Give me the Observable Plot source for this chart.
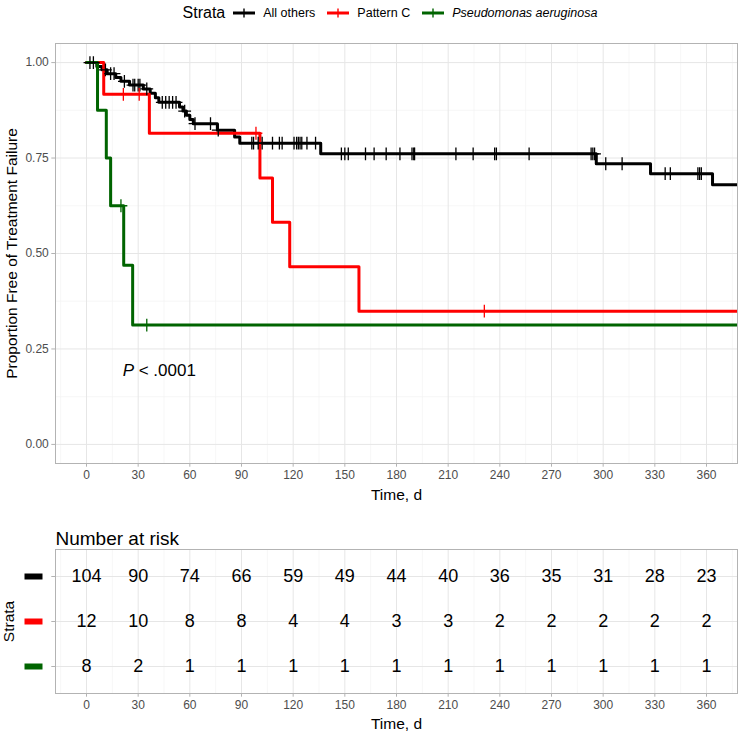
<!DOCTYPE html>
<html><head><meta charset="utf-8">
<script src="https://cdn.jsdelivr.net/npm/d3@7"></script>
<script src="https://cdn.jsdelivr.net/npm/@observablehq/plot@0.6"></script>
<style>
body{margin:0;background:#fff;font-family:"Liberation Sans",Arial,sans-serif;}
#wrap{position:relative;width:750px;height:734px;overflow:hidden;}
#legend{position:absolute;left:55px;top:0;width:682px;height:25px;display:flex;align-items:center;justify-content:center;}
#legend .ttl{font-size:16px;margin-right:8px;color:#000;}
#legend .item{display:flex;align-items:center;margin-right:12px;font-size:12.5px;color:#000;}
#legend svg{margin-right:8px;}
#main{position:absolute;left:0;top:25px;}
#risk{position:absolute;left:0;top:510px;}
</style></head><body>
<div id="wrap"><div id="legend"></div><div id="main"></div><div id="risk"></div></div>
<script>
// ---------- data ----------
const strata = ["All others", "Pattern C", "Pseudomonas aeruginosa"];
const strataColors = ["#000000", "#FF0000", "#006400"];

const othersTime = [0, 6, 9, 12, 17, 20, 25, 33, 37, 40, 42, 54, 56, 58, 60, 62, 76, 86, 89, 136, 296, 327.5, 363.5];
const othersSurv = [1.000, 0.990, 0.981, 0.971, 0.961, 0.951, 0.941, 0.931, 0.920, 0.908, 0.896, 0.884, 0.873, 0.862, 0.851, 0.840, 0.823, 0.805, 0.789, 0.761, 0.735, 0.709, 0.680];
const othersCensor = [2, 4, 11, 14, 16, 22, 27, 28, 30, 31, 35, 44, 46, 48, 50, 52, 57, 63, 72, 76.5, 96, 97, 99.7, 102, 108, 112, 113.6, 120.5, 122, 123, 124, 125, 128, 133, 148, 150, 152, 162, 167, 174, 182, 189, 190, 190.5, 214.5, 224.5, 237, 238, 257, 293, 294, 295, 301.5, 311, 336, 339, 355, 356, 357];

const patternTime = [0, 10, 36.5, 100.7, 108, 118, 158.2];
const patternSurv = [1.000, 0.917, 0.815, 0.698, 0.582, 0.465, 0.349];
const patternCensor = [21.4, 30.6, 98.4, 231];

const pseudoTime = [0, 6.4, 11.5, 14, 21.6, 26.8];
const pseudoSurv = [1.000, 0.875, 0.750, 0.625, 0.469, 0.3125];
const pseudoCensor = [20, 35];

const xTicks = [0, 30, 60, 90, 120, 150, 180, 210, 240, 270, 300, 330, 360];
const xMinor = [-15, 15, 45, 75, 105, 135, 165, 195, 225, 255, 285, 315, 345, 375];
const yTicks = [0, 0.25, 0.5, 0.75, 1];
const yMinor = [0.125, 0.375, 0.625, 0.875];

const riskOthers = [104, 90, 74, 66, 59, 49, 44, 40, 36, 35, 31, 28, 23];
const riskPattern = [12, 10, 8, 8, 4, 4, 3, 3, 2, 2, 2, 2, 2];
const riskPseudo = [8, 2, 1, 1, 1, 1, 1, 1, 1, 1, 1, 1, 1];

const pLabel = "P";
const pText = "< .0001";
const pPos = {time: 21, surv: 0.194};

// ---------- build tables ----------
const xDomain = [-18, 378];
const series = [
  {name: strata[0], t: othersTime, s: othersSurv, c: othersCensor},
  {name: strata[1], t: patternTime, s: patternSurv, c: patternCensor},
  {name: strata[2], t: pseudoTime, s: pseudoSurv, c: pseudoCensor}
];
const lineRows = [], censorRows = [];
for (const sr of series) {
  sr.t.forEach((t, i) => lineRows.push({strata: sr.name, time: t, surv: sr.s[i]}));
  lineRows.push({strata: sr.name, time: xDomain[1], surv: sr.s[sr.s.length - 1]});
  for (const ct of sr.c) {
    let v = sr.s[0];
    sr.t.forEach((t, i) => { if (t <= ct) v = sr.s[i]; });
    censorRows.push({strata: sr.name, time: ct, surv: v});
  }
}
const riskRows = [];
[riskOthers, riskPattern, riskPseudo].forEach((arr, k) =>
  arr.forEach((n, i) => riskRows.push({strata: strata[k], time: xTicks[i], n})));

const font = '"Liberation Sans", Arial, sans-serif';
const gridMajor = "#e6e6e6", gridMinor = "#f3f3f3", borderCol = "#b3b3b3";

// ---------- legend ----------
const leg = document.getElementById("legend");
const ttl = document.createElement("span"); ttl.className = "ttl"; ttl.textContent = "Strata"; leg.appendChild(ttl);
strata.forEach((s, i) => {
  const it = document.createElement("span"); it.className = "item";
  const ns = "http://www.w3.org/2000/svg";
  const sv = document.createElementNS(ns, "svg"); sv.setAttribute("width", 22); sv.setAttribute("height", 14);
  const l1 = document.createElementNS(ns, "line");
  l1.setAttribute("x1", 0); l1.setAttribute("x2", 22); l1.setAttribute("y1", 7); l1.setAttribute("y2", 7);
  l1.setAttribute("stroke", strataColors[i]); l1.setAttribute("stroke-width", 3);
  const l2 = document.createElementNS(ns, "line");
  l2.setAttribute("x1", 11); l2.setAttribute("x2", 11); l2.setAttribute("y1", 2.5); l2.setAttribute("y2", 11.5);
  l2.setAttribute("stroke", strataColors[i]); l2.setAttribute("stroke-width", 1.4);
  sv.appendChild(l1); sv.appendChild(l2); it.appendChild(sv);
  const tx = document.createElement("span"); tx.textContent = s;
  if (i === 2) tx.style.fontStyle = "italic";
  it.appendChild(tx); leg.appendChild(it);
});

// ---------- main plot ----------
const main = Plot.plot({
  width: 750, height: 485,
  marginTop: 18, marginBottom: 47, marginLeft: 55, marginRight: 13,
  style: {fontFamily: font, fontSize: "12px", background: "white"},
  x: {domain: xDomain},
  y: {domain: [-0.05, 1.05]},
  color: {domain: strata, range: strataColors},
  marks: [
    Plot.ruleX(xMinor, {stroke: gridMinor, strokeWidth: 0.7}),
    Plot.ruleY(yMinor, {stroke: gridMinor, strokeWidth: 0.7}),
    Plot.ruleX(xTicks, {stroke: gridMajor, strokeWidth: 1}),
    Plot.ruleY(yTicks, {stroke: gridMajor, strokeWidth: 1}),
    Plot.frame({stroke: borderCol, strokeWidth: 1}),
    Plot.axisX({ticks: xTicks, tickSize: 3.7, tickPadding: 3, tickFormat: d => String(d), label: null, stroke: borderCol, fill: "#4d4d4d", fontSize: 12}),
    Plot.axisY({ticks: yTicks, tickSize: 3.7, tickPadding: 3, tickFormat: d => d.toFixed(2), label: null, stroke: borderCol, fill: "#4d4d4d", fontSize: 12}),
    Plot.line(lineRows, {x: "time", y: "surv", z: "strata", stroke: "strata", curve: "step-after", strokeWidth: 3, clip: true}),
    Plot.dot(censorRows, {x: "time", y: "surv", stroke: "strata", symbol: "plus", r: 4.2, strokeWidth: 1.3}),
    Plot.text([pPos], {x: "time", y: "surv", text: () => pLabel, textAnchor: "start", fontStyle: "italic", fontSize: 17, fill: "black"}),
    Plot.text([pPos], {x: "time", y: "surv", text: () => pText, textAnchor: "start", dx: 16, fontSize: 17, fill: "black"}),
    Plot.text(["Time, d"], {frameAnchor: "bottom", textAnchor: "middle", lineAnchor: "middle", dy: 32, fontSize: 15.5, fill: "black"}),
    Plot.text(["Proportion Free of Treatment Failure"], {frameAnchor: "left", textAnchor: "middle", rotate: -90, dx: -43, fontSize: 15.5, fill: "black"})
  ]
});
document.getElementById("main").appendChild(main);

// ---------- risk table ----------
const rectSymbol = {draw(ctx) { ctx.rect(-9, -3, 18, 6); }};
const risk = Plot.plot({
  width: 750, height: 224,
  marginTop: 39, marginBottom: 41, marginLeft: 55, marginRight: 13,
  style: {fontFamily: font, fontSize: "12px", background: "white"},
  x: {domain: xDomain},
  y: {type: "point", domain: strata, padding: 0.6},
  color: {domain: strata, range: strataColors},
  marks: [
    Plot.ruleX(xMinor, {stroke: gridMinor, strokeWidth: 0.7}),
    Plot.ruleX(xTicks, {stroke: gridMajor, strokeWidth: 1}),
    Plot.ruleY(strata, {y: d => d, stroke: gridMajor, strokeWidth: 1}),
    Plot.frame({stroke: borderCol, strokeWidth: 1}),
    Plot.axisX({ticks: xTicks, tickSize: 3.7, tickPadding: 3, tickFormat: d => String(d), label: null, stroke: borderCol, fill: "#4d4d4d", fontSize: 12}),
    Plot.axisY({tickSize: 3.7, tickFormat: () => "", label: null, stroke: borderCol}),
    Plot.text(riskRows, {x: "time", y: "strata", text: "n", fontSize: 18, fill: "black"}),
    Plot.dot(strata, {y: d => d, fill: d => d, symbol: rectSymbol, r: 5, frameAnchor: "left", dx: -22}),
    Plot.text(["Number at risk"], {frameAnchor: "top-left", textAnchor: "start", dy: -18, fontSize: 19, fill: "black"}),
    Plot.text(["Strata"], {frameAnchor: "left", textAnchor: "middle", rotate: -90, dx: -46, fontSize: 15.5, fill: "black"}),
    Plot.text(["Time, d"], {frameAnchor: "bottom", textAnchor: "middle", lineAnchor: "middle", dy: 31, fontSize: 15.5, fill: "black"})
  ]
});
document.getElementById("risk").appendChild(risk);
</script>
</body></html>
